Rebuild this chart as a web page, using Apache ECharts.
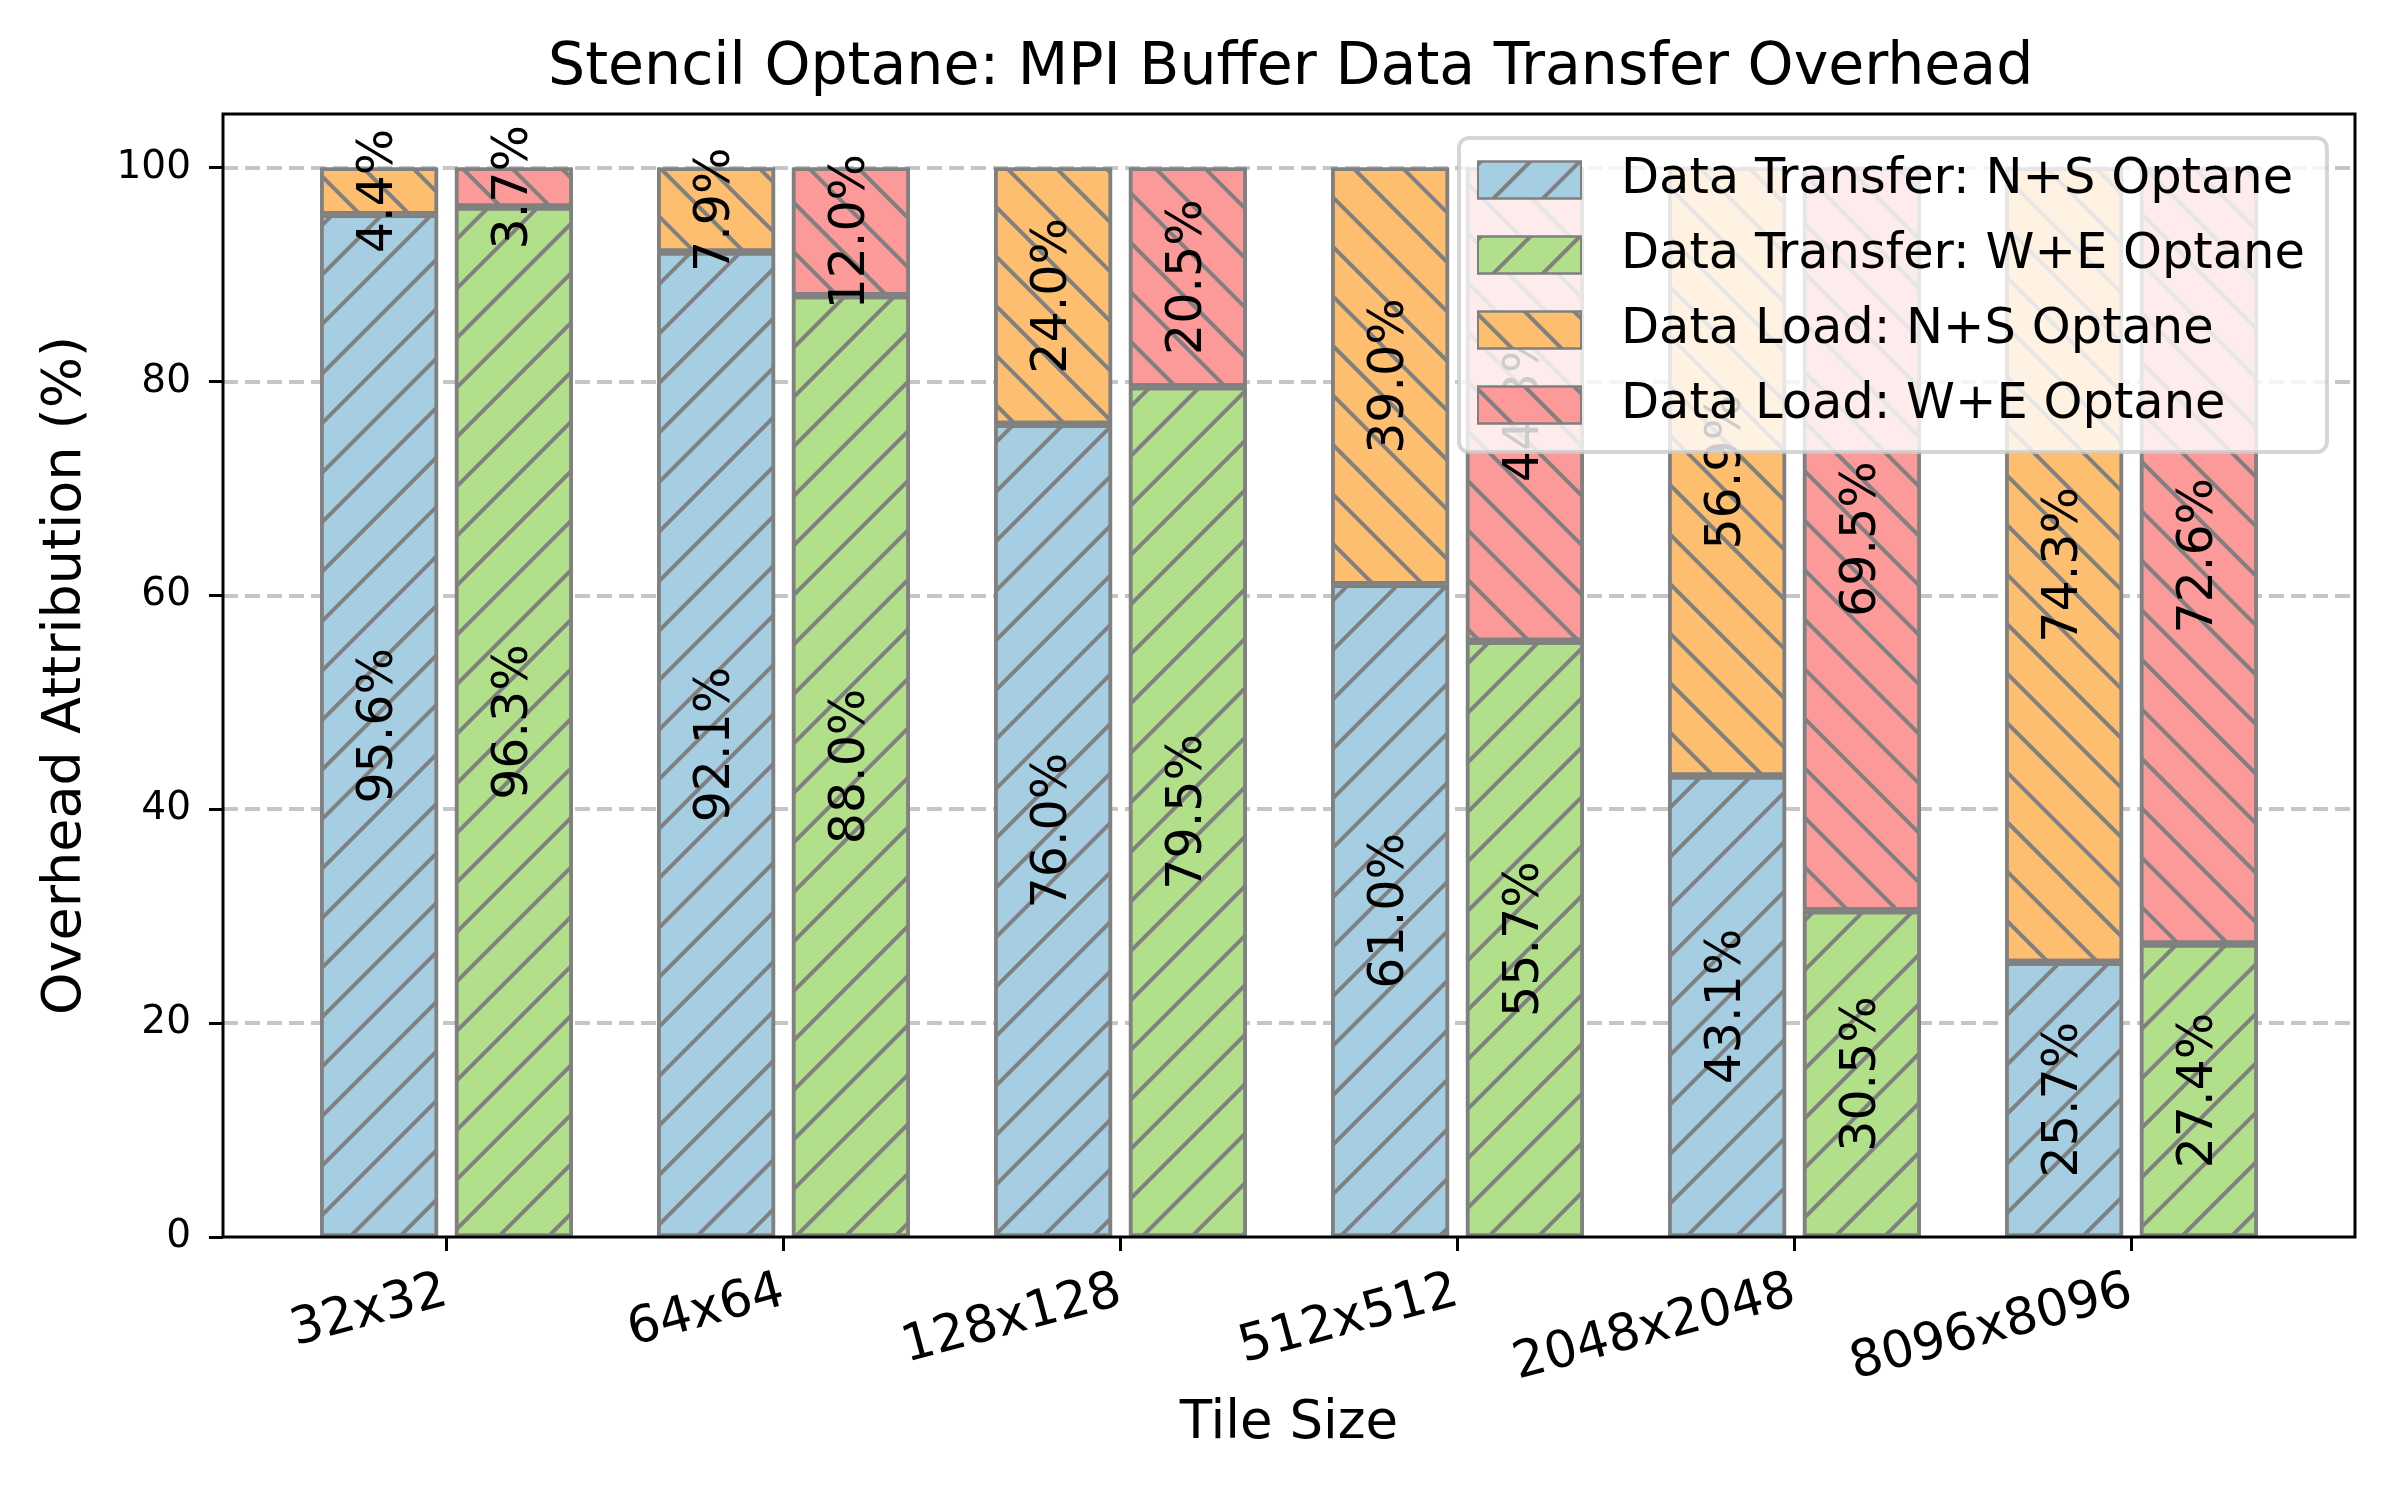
<!DOCTYPE html>
<html><head><meta charset="utf-8">
<script src="https://cdn.jsdelivr.net/npm/echarts@6/dist/echarts.min.js"></script>
<style>html,body{margin:0;padding:0;background:#fff}#c{width:2400px;height:1500px}</style>
</head><body><div id="c"></div>
<script>
const categories = ['32x32', '64x64', '128x128', '512x512', '2048x2048', '8096x8096'];
const transferNS = [95.6, 92.1, 76.0, 61.0, 43.1, 25.7];
const transferWE = [96.3, 88.0, 79.5, 55.7, 30.5, 27.4];
const loadNS = [4.4, 7.9, 24.0, 39.0, 56.9, 74.3];
const loadWE = [3.7, 12.0, 20.5, 44.3, 69.5, 72.6];
const yTicks = [0, 20, 40, 60, 80, 100];

const FF = 'DejaVu Sans';
const EDGE = '#808080';

function mk(name, data, stack, color, forward) {
  return {
    name, type: 'bar', stack, data,
    xAxisIndex: 1, yAxisIndex: 1,
    barWidth: 118, barGap: '14.2%',
    itemStyle: {
      color, borderColor: EDGE, borderWidth: 3.5,
      decal: {
        symbol: 'rect', symbolSize: 1, color: EDGE,
        dashArrayX: [1, 0], dashArrayY: [4, 31],
        rotation: forward ? -Math.PI / 4 : Math.PI / 4
      }
    },
    label: {
      show: true, position: 'inside', rotate: 90,
      formatter: p => p.value.toFixed(1) + '%',
      fontSize: 49, color: '#000', fontFamily: FF, textBorderWidth: 0
    },
    emphasis: { disabled: true }
  };
}

const chart = echarts.init(document.getElementById('c'));
chart.setOption({
  animation: false,
  backgroundColor: '#fff',
  aria: { enabled: true, decal: { show: true } },
  title: {
    text: 'Stencil Optane: MPI Buffer Data Transfer Overhead',
    left: 548, top: 39, padding: 0,
    textStyle: { fontSize: 58.5, fontWeight: 'normal', color: '#000', fontFamily: FF }
  },
  legend: {
    orient: 'vertical', left: 1459, top: 138,
    padding: [17, 22, 22, 18],
    itemWidth: 103, itemHeight: 37, itemGap: 25,
    icon: 'rect',
    backgroundColor: 'rgba(255,255,255,0.8)',
    borderColor: 'rgba(204,204,204,0.8)', borderWidth: 4, borderRadius: 10,
    textStyle: { fontSize: 49.5, fontFamily: FF, color: '#000', padding: [0, 0, 0, 35], lineHeight: 48 },
    data: ['Data Transfer: N+S Optane', 'Data Transfer: W+E Optane', 'Data Load: N+S Optane', 'Data Load: W+E Optane']
  },
  grid: [
    { left: 223, right: 45, top: 114, bottom: 263 },
    { left: 278, right: 100, top: 114, bottom: 263 }
  ],
  xAxis: [
    { gridIndex: 0, type: 'value', min: 0, max: 1, show: false },
    {
      gridIndex: 1, type: 'category', data: categories,
      axisLine: { show: false },
      axisTick: { show: true, alignWithLabel: true, length: 14, lineStyle: { color: '#000', width: 3 } },
      axisLabel: { rotate: 15, fontSize: 51, margin: 54, color: '#000', fontFamily: FF },
      name: 'Tile Size', nameLocation: 'middle', nameGap: 161,
      nameTextStyle: { fontSize: 53, color: '#000', fontFamily: FF },
      splitLine: { show: false }
    }
  ],
  yAxis: [
    {
      gridIndex: 0, type: 'value', min: 0, max: 105, interval: 20,
      axisLine: { show: false },
      axisTick: { show: true, length: 14, customValues: yTicks, lineStyle: { color: '#000', width: 3 } },
      axisLabel: { fontSize: 39, margin: 32, color: '#000', fontFamily: FF, customValues: yTicks },
      splitLine: { show: true, showMinLine: false, lineStyle: { color: '#c6c6c6', width: 4, type: [15, 7] } },
      name: 'Overhead Attribution (%)', nameLocation: 'middle', nameGap: 130,
      nameTextStyle: { fontSize: 54, color: '#000', fontFamily: FF }
    },
    { gridIndex: 1, type: 'value', min: 0, max: 105, show: false }
  ],
  graphic: [{
    type: 'rect', silent: true, z: 100,
    shape: { x: 223, y: 114, width: 2132, height: 1123 },
    style: { fill: 'none', stroke: '#000', lineWidth: 3 }
  }],
  series: [
    mk('Data Transfer: N+S Optane', transferNS, 'NS', '#a6cee3', true),
    mk('Data Transfer: W+E Optane', transferWE, 'WE', '#b2df8a', true),
    mk('Data Load: N+S Optane', loadNS, 'NS', '#fdbf6f', false),
    mk('Data Load: W+E Optane', loadWE, 'WE', '#fb9a99', false)
  ]
});
</script></body></html>
